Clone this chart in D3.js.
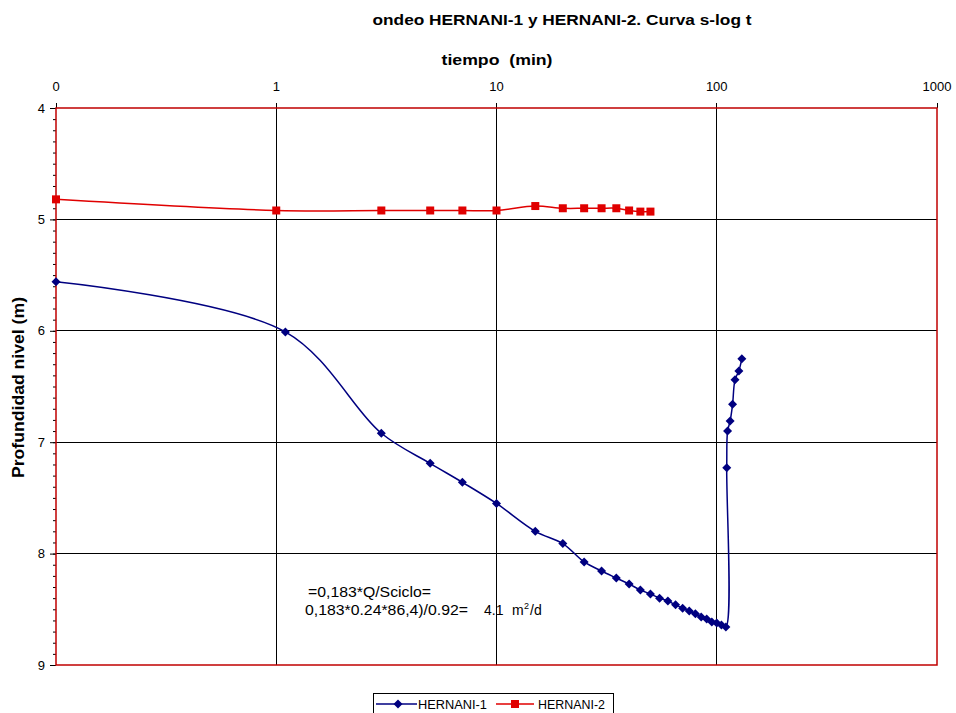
<!DOCTYPE html>
<html>
<head>
<meta charset="utf-8">
<script src="https://cdn.jsdelivr.net/npm/d3@7"></script>
<style>
  body { margin: 0; background: #fff; }
  svg { display: block; font-family: "Liberation Sans", Arial, sans-serif; }
</style>
</head>
<body>
<div id="chart"></div>
<script>
// tiempo (min) y profundidad nivel (m)
const h1Tiempo = [0.1, 1.1, 3, 5, 7, 10, 15, 20, 25, 30, 35, 40, 45, 50, 55, 60, 65, 70, 75, 80, 85, 90, 95, 100, 105, 110,
                  111, 112, 115, 118, 121, 126, 130];
const h1Nivel = [5.56, 6.01, 6.92, 7.19, 7.36, 7.55, 7.80, 7.91, 8.075, 8.156, 8.219, 8.273, 8.327, 8.363, 8.40, 8.425, 8.46, 8.49, 8.515, 8.54, 8.57, 8.587, 8.614, 8.623, 8.64, 8.66,
                 7.23, 6.90, 6.81, 6.66, 6.44, 6.36, 6.25];
const h2Tiempo = [0.1, 1, 3, 5, 7, 10, 15, 20, 25, 30, 35, 40, 45, 50];
const h2Nivel = [4.82, 4.92, 4.92, 4.92, 4.92, 4.92, 4.88, 4.90, 4.90, 4.90, 4.90, 4.92, 4.93, 4.93];

const xTicks = [0.1, 1, 10, 100, 1000];
const xTickLabels = ["0", "1", "10", "100", "1000"];
const yTicks = [4, 5, 6, 7, 8, 9];

const width = 956, height = 713;
const svg = d3.select("#chart").append("svg").attr("width", width).attr("height", height);

const x = d3.scaleLog().domain([0.1, 1000]).range([56, 937]);
const y = d3.scaleLinear().domain([4, 9]).range([108, 665]);

// Títulos
svg.append("text").attr("x", 562).attr("y", 25).attr("text-anchor", "middle")
  .attr("textLength", 379).attr("lengthAdjust", "spacingAndGlyphs")
  .style("font-size", "15px").style("font-weight", "bold")
  .text("ondeo HERNANI-1 y HERNANI-2. Curva s-log t");
svg.append("text").attr("x", 497).attr("y", 65).attr("text-anchor", "middle")
  .attr("textLength", 111).attr("lengthAdjust", "spacingAndGlyphs").attr("xml:space", "preserve")
  .style("font-size", "15px").style("font-weight", "bold")
  .text("tiempo  (min)");
svg.append("text").attr("transform", "translate(24,387.5) rotate(-90)").attr("text-anchor", "middle")
  .attr("textLength", 181).attr("lengthAdjust", "spacingAndGlyphs")
  .style("font-size", "16px").style("font-weight", "bold")
  .text("Profundidad nivel (m)");

// Texto de cálculo (detrás de la cuadrícula)
const note = svg.append("g").style("font-size", "14px").attr("fill", "#000");
note.append("text").attr("x", 308).attr("y", 597).attr("textLength", 123).attr("lengthAdjust", "spacingAndGlyphs")
  .text("=0,183*Q/Sciclo=");
note.append("text").attr("x", 305).attr("y", 615).attr("textLength", 163).attr("lengthAdjust", "spacingAndGlyphs")
  .text("0,183*0.24*86,4)/0.92=");
note.append("text").attr("x", 484).attr("y", 615).text("4.1");
note.append("text").attr("x", 512).attr("y", 615).text("m");
note.append("text").attr("x", 524).attr("y", 609).style("font-size", "9px").text("2");
note.append("text").attr("x", 530).attr("y", 615).text("/d");

// Cuadrícula
svg.append("g").selectAll("line").data(yTicks.slice(1, -1)).enter().append("line")
  .attr("x1", x(0.1)).attr("x2", x(1000)).attr("y1", d => y(d)).attr("y2", d => y(d))
  .attr("stroke", "#000").attr("stroke-width", 1).attr("shape-rendering", "crispEdges");
svg.append("g").selectAll("line").data(xTicks).enter().append("line")
  .attr("x1", d => x(d)).attr("x2", d => x(d)).attr("y1", y(4) - 5).attr("y2", d => (d === 0.1 || d === 1000) ? y(4) : y(9))
  .attr("stroke", "#000").attr("stroke-width", 1).attr("shape-rendering", "crispEdges");

// Eje Y
const yAxis = svg.append("g").attr("transform", `translate(${x(0.1)},0)`);
yAxis.call(d3.axisLeft(y).tickValues(d3.range(40, 91).map(v => v / 10)).tickSize(3).tickFormat(""))
  .call(g => g.select(".domain").remove());
yAxis.selectAll("line").attr("stroke", "#000");
const yMajor = svg.append("g").attr("transform", `translate(${x(0.1)},0)`)
  .call(d3.axisLeft(y).tickValues(yTicks).tickSize(6).tickFormat(d3.format("d")))
  .call(g => g.select(".domain").remove());
yMajor.selectAll("text").style("font-size", "13px").attr("dx", "-2px").attr("fill", "#000")
  .style("font-family", "'Liberation Sans', Arial, sans-serif");

// Eje X (arriba)
svg.append("g").selectAll("text").data(xTicks).enter().append("text")
  .attr("x", d => x(d)).attr("y", 91).attr("text-anchor", "middle")
  .style("font-size", "13px").text((d, i) => xTickLabels[i]);

// Borde del área de trazado
svg.append("rect").attr("x", x(0.1)).attr("y", y(4)).attr("width", x(1000) - x(0.1)).attr("height", y(9) - y(4))
  .attr("fill", "none").attr("stroke", "#c00000").attr("stroke-width", 1.5);

// Series
const line = d3.line().x(d => x(d[0])).y(d => y(d[1])).curve(d3.curveCatmullRom.alpha(0.5));
const h1 = h1Tiempo.map((t, i) => [t, h1Nivel[i]]);
const h2 = h2Tiempo.map((t, i) => [t, h2Nivel[i]]);

svg.append("path").datum(h2).attr("d", line).attr("fill", "none").attr("stroke", "#e00000").attr("stroke-width", 1.5);
svg.append("g").selectAll("rect").data(h2).enter().append("rect")
  .attr("x", d => x(d[0]) - 4).attr("y", d => y(d[1]) - 4).attr("width", 8).attr("height", 8).attr("fill", "#e00000");

svg.append("path").datum(h1).attr("d", line).attr("fill", "none").attr("stroke", "#000080").attr("stroke-width", 1.5);
const diamond = "M0,-4.5L4.5,0L0,4.5L-4.5,0Z";
svg.append("g").selectAll("path").data(h1).enter().append("path")
  .attr("d", diamond).attr("transform", d => `translate(${x(d[0])},${y(d[1])})`).attr("fill", "#000080");

// Leyenda
const lg = svg.append("g");
lg.append("rect").attr("x", 373.5).attr("y", 693.5).attr("width", 240).attr("height", 30)
  .attr("fill", "#fff").attr("stroke", "#000").attr("stroke-width", 1);
lg.append("line").attr("x1", 376).attr("x2", 417).attr("y1", 704).attr("y2", 704).attr("stroke", "#000080").attr("stroke-width", 1.5);
lg.append("path").attr("d", diamond).attr("transform", "translate(398,704)").attr("fill", "#000080");
lg.append("text").attr("x", 418).attr("y", 708.5).attr("textLength", 69).attr("lengthAdjust", "spacingAndGlyphs")
  .style("font-size", "12px").text("HERNANI-1");
lg.append("line").attr("x1", 496).attr("x2", 534).attr("y1", 704).attr("y2", 704).attr("stroke", "#e00000").attr("stroke-width", 1.5);
lg.append("rect").attr("x", 511).attr("y", 700).attr("width", 8).attr("height", 8).attr("fill", "#e00000");
lg.append("text").attr("x", 538).attr("y", 708.5).attr("textLength", 67).attr("lengthAdjust", "spacingAndGlyphs")
  .style("font-size", "12px").text("HERNANI-2");
</script>
</body>
</html>
